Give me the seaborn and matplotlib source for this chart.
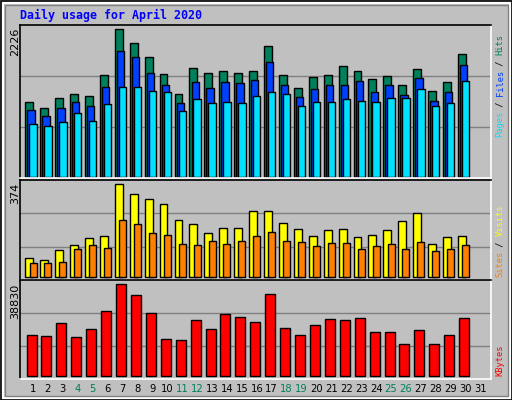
import numpy as np
import matplotlib
matplotlib.use("Agg")
import matplotlib.pyplot as plt
import seaborn as sns
from matplotlib.patches import Rectangle

days = np.arange(1, 31)
hits = [1123,1032,1183,1244,1214,1531,2226,2014,1803,1546,1244,1637,1561,1591,1561,1591,1969,1531,1335,1501,1531,1667,1591,1470,1516,1380,1622,1289,1425,1848]
files = [1002,912,1032,1123,1063,1350,1894,1803,1561,1380,1108,1425,1335,1425,1410,1455,1727,1380,1199,1319,1380,1380,1440,1274,1380,1229,1486,1138,1274,1682]
pages = [791,760,821,957,836,1093,1350,1350,1289,1274,987,1168,1108,1123,1108,1214,1274,1244,1063,1123,1123,1168,1138,1123,1183,1183,1319,1063,1108,1440]
visits = [78,66,107,127,155,167,374,333,313,293,228,212,176,196,196,265,265,216,192,163,188,192,159,171,188,224,257,131,159,163]
sites = [54,54,58,111,127,115,228,212,176,171,131,127,143,131,143,167,180,143,139,123,135,135,111,123,131,111,139,103,111,127]
kbytes = [17146,16721,22247,16296,19697,27348,38830,34150,26498,15445,15020,23522,19697,26073,24798,22672,34575,20121,17146,21397,23947,23522,24372,18421,18421,13320,19271,13320,17146,24372]
day_labels = [str(d) for d in range(1, 32)]
weekend_days = [4, 5, 11, 12, 18, 19, 25, 26]
title = "Daily usage for April 2020"

BG = "#C0C0C0"
sns.set_style("white")
plt.rcParams["font.family"] = ["DejaVu Sans"]
W, H = 512, 400
fig = plt.figure(figsize=(5.12, 4.0), dpi=100, facecolor=BG)

def px_axes(x0, y0, x1, y1):
    return fig.add_axes([x0 / W, 1 - y1 / H, (x1 - x0) / W, (y1 - y0) / H])

# figure bevel border
fig.patches.append(Rectangle((0.5 / W, 0.5 / H), 1 - 1 / W, 1 - 1 / H, transform=fig.transFigure,
                             fill=False, edgecolor="black", lw=1.2))
fig.patches.append(Rectangle((2.5 / W, 2.5 / H), 1 - 5 / W, 1 - 5 / H, transform=fig.transFigure,
                             fill=False, edgecolor="white", lw=1.5))
fig.patches.append(Rectangle((4.5 / W, 4.5 / H), 1 - 9 / W, 1 - 9 / H, transform=fig.transFigure,
                             fill=False, edgecolor="#808080", lw=1.0))

XL = (0.128, 31.70)

def setup(ax, ylim):
    ax.set_facecolor(BG)
    ax.set_xlim(*XL)
    ax.set_ylim(*ylim)
    for f in (1 / 3, 2 / 3):
        ax.axhline(ylim[0] + f * (ylim[1] - ylim[0]), color="#808080", lw=1, zorder=0)
    ax.set_xticks([]); ax.set_yticks([])
    ax.set_xlabel(""); ax.set_ylabel("")
    for s in ("left", "top"):
        ax.spines[s].set_color("black")
    for s in ("right", "bottom"):
        ax.spines[s].set_color("white")
    for s in ax.spines.values():
        s.set_linewidth(1.2)

def bars(ax, off, vals, w, color):
    sns.barplot(x=days + off, y=vals, native_scale=True, width=w, color=color,
                edgecolor="black", linewidth=1, saturation=1, ax=ax, zorder=2)

ax1 = px_axes(20, 25, 491, 178)
bars(ax1, -0.25, hits, 0.53, "#00805C")
bars(ax1, -0.13, files, 0.49, "#0040FF")
bars(ax1, 0.0, pages, 0.49, "#00E0FF")
setup(ax1, (-20, 2291))

ax2 = px_axes(20, 180, 491, 280)
bars(ax2, -0.25, visits, 0.53, "#FFFF00")
bars(ax2, 0.0, sites, 0.47, "#FF8000")
setup(ax2, (-13, 391.5))

ax3 = px_axes(20, 280, 491, 379)
bars(ax3, -0.1, kbytes, 0.67, "#FF0000")
setup(ax3, (-1400, 40660))

# max labels on left
for txt, y in (("2226", 28), ("374", 183), ("38830", 284)):
    fig.text(15 / W, 1 - y / H, txt, rotation=90, ha="center", va="top", fontsize=8, color="black")

# day labels
for i, lab in enumerate(day_labels):
    d = i + 1
    xd = ax3.transData.transform((d, 0))[0]
    xf = fig.transFigure.inverted().transform((xd, 0))[0]
    col = "#00805C" if d in weekend_days else "black"
    fig.text(xf, 1 - 389 / H, lab, ha="center", va="center", fontsize=7.2, color=col)

fig.text(20 / W, 1 - 15 / H, title, fontsize=8.4, color="#0000FF", fontweight="bold",
         family="DejaVu Sans Mono", ha="left", va="center")

# right side rotated legends
def vlegend(parts, ybottom, x=500, cw=5.1):
    pos = 0
    for txt, col in parts:
        fig.text(x / W, 1 - (ybottom - pos * cw) / H, txt, rotation=90, rotation_mode="anchor",
                 ha="left", va="center", fontsize=6.3, color=col, family="DejaVu Sans Mono")
        pos += len(txt)

vlegend([("Pages", "#00E0FF"), (" / ", "black"), ("Files", "#0040FF"), (" / ", "black"), ("Hits", "#00805C")], 137)
vlegend([("Sites", "#FF8000"), (" / ", "black"), ("Visits", "#FFFF00")], 277)
vlegend([("KBytes", "#FF0000")], 376)

fig.savefig("out.png", dpi=100, facecolor=BG)
